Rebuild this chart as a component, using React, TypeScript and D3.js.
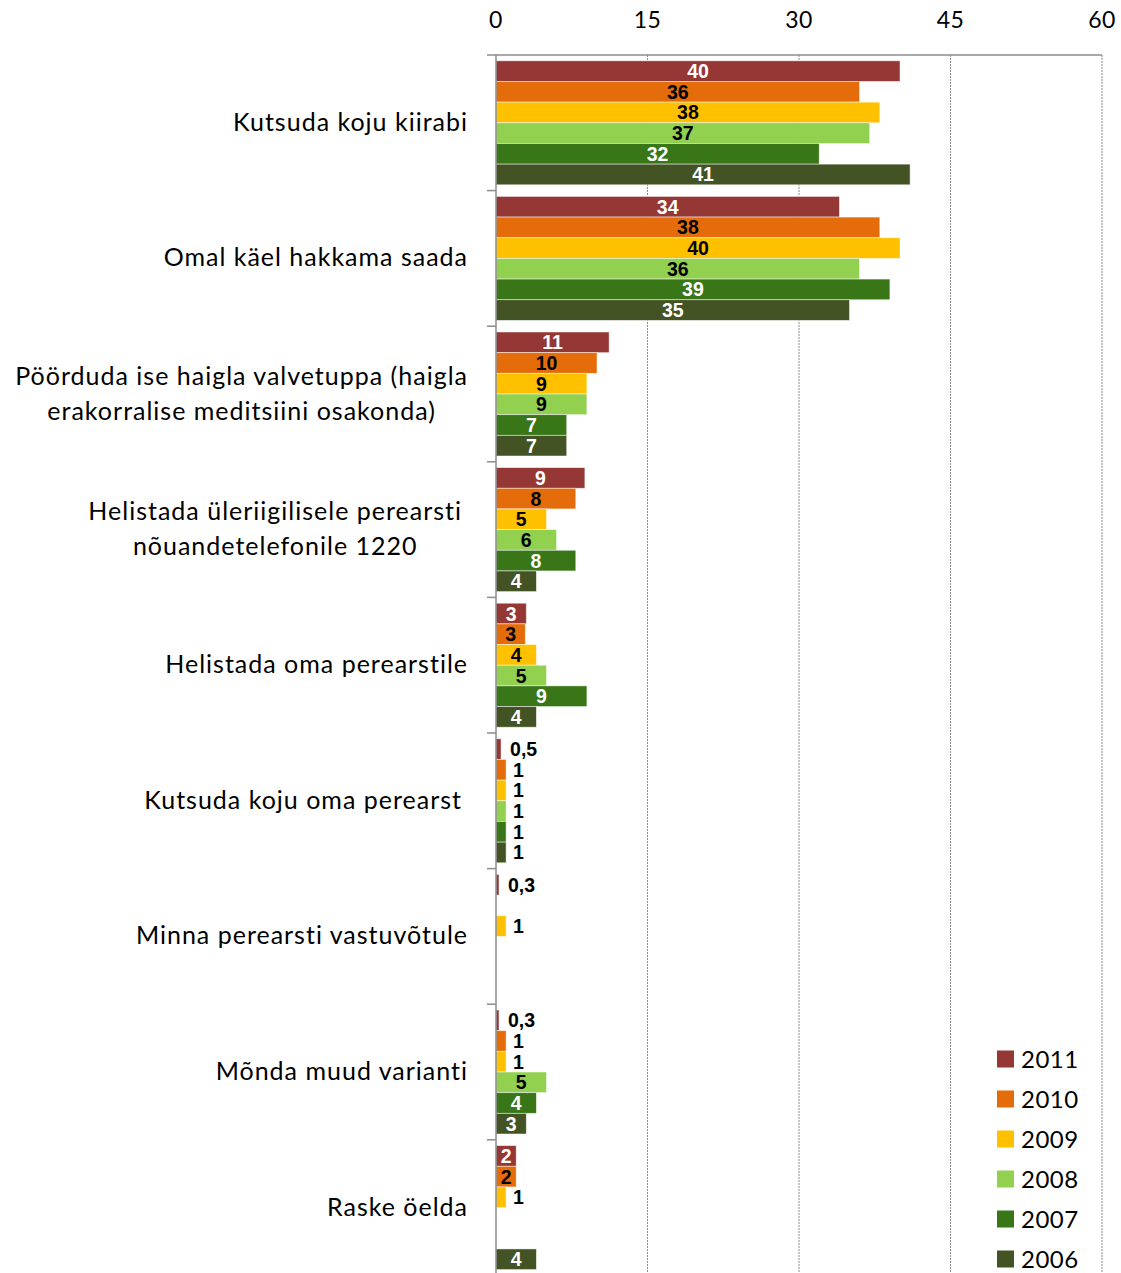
import React, { useEffect, useRef } from "react";
import * as d3 from "d3";

const categories = [
  ["Kutsuda koju kiirabi"],
  ["Omal käel hakkama saada"],
  ["Pöörduda ise haigla valvetuppa (haigla", "erakorralise meditsiini osakonda)"],
  ["Helistada üleriigilisele perearsti", "nõuandetelefonile 1220"],
  ["Helistada oma perearstile"],
  ["Kutsuda koju oma perearst"],
  ["Minna perearsti vastuvõtule"],
  ["Mõnda muud varianti"],
  ["Raske öelda"],
];

const years = ["2011", "2010", "2009", "2008", "2007", "2006"];
const colors = ["#953735", "#E46C0A", "#FFC000", "#92D050", "#387618", "#435323"];
const labelColors = ["#fff", "#000", "#000", "#000", "#fff", "#fff"];

const v2011 = [40, 34, 11.2, 8.8, 3, 0.5, 0.3, 0.3, 2];
const v2010 = [36, 38, 10, 7.9, 2.9, 1, null, 1, 2];
const v2009 = [38, 40, 9, 5, 4, 1, 1, 1, 1];
const v2008 = [37, 36, 9, 6, 5, 1, null, 5, null];
const v2007 = [32, 39, 7, 7.9, 9, 1, null, 4, null];
const v2006 = [41, 35, 7, 4, 4, 1, null, 3, 4];
const series = [v2011, v2010, v2009, v2008, v2007, v2006];

const xTicks = [0, 15, 30, 45, 60];

const W = 1121;
const H = 1273;

export default function App() {
  const ref = useRef<SVGSVGElement | null>(null);

  useEffect(() => {
    const svg = d3.select(ref.current);
    svg.selectAll("*").remove();

    const left = 496;
    const right = 1102;
    const top = 55;
    const bandH = 135.6;

    const x = d3.scaleLinear().domain([0, 60]).range([left, right]);
    const y = d3
      .scaleBand<number>()
      .domain(d3.range(categories.length))
      .range([top, top + bandH * categories.length])
      .paddingInner(0)
      .paddingOuter(0);
    const inner = d3
      .scaleBand<number>()
      .domain(d3.range(years.length))
      .range([5.8, bandH - 5.8]);

    // gridlines
    svg
      .append("g")
      .selectAll("line")
      .data(xTicks.slice(1))
      .enter()
      .append("line")
      .attr("x1", (d) => x(d))
      .attr("x2", (d) => x(d))
      .attr("y1", top)
      .attr("y2", H)
      .attr("stroke", "#8c8c8c")
      .attr("stroke-width", 1)
      .attr("stroke-dasharray", "2,1");

    // tick labels
    svg
      .append("g")
      .selectAll("text")
      .data(xTicks)
      .enter()
      .append("text")
      .attr("x", (d) => x(d))
      .attr("y", 28)
      .attr("text-anchor", "middle")
      .style("font-family", "Lato, 'Open Sans', sans-serif")
      .style("font-size", "23px")
      .style("letter-spacing", "0.5px")
      .attr("fill", "#000")
      .text((d) => d);

    // bars
    series.forEach((vals, si) => {
      const g = svg.append("g");
      const data = vals
        .map((v, ci) => ({ v, ci }))
        .filter((d) => d.v !== null) as { v: number; ci: number }[];
      g.selectAll("rect")
        .data(data)
        .enter()
        .append("rect")
        .attr("x", x(0))
        .attr("y", (d) => (y(d.ci) as number) + (inner(si) as number))
        .attr("width", (d) => x(d.v) - x(0))
        .attr("height", inner.bandwidth())
        .attr("fill", colors[si])
        .attr("stroke", "rgba(255,255,255,0.6)")
        .attr("stroke-width", 0.8);

      g.selectAll("text")
        .data(data)
        .enter()
        .append("text")
        .attr("x", (d) => (d.v < 1 ? x(d.v) + 9 : d.v === 1 ? x(d.v) + 7 : (x(0) + x(d.v)) / 2))
        .attr("y", (d) => (y(d.ci) as number) + (inner(si) as number) + inner.bandwidth() / 2 + 7)
        .attr("text-anchor", (d) => (d.v <= 1 ? "start" : "middle"))
        .style("font-family", "'Liberation Sans Narrow', 'Liberation Sans', Arial, sans-serif")
        .style("font-weight", "bold")
        .style("font-size", "19.5px")
        .attr("fill", (d) => (d.v <= 1 ? "#000" : labelColors[si]))
        .text((d) => String(d.v >= 2 ? Math.round(d.v) : d.v).replace(".", ","));
    });

    // axes lines
    svg
      .append("line")
      .attr("x1", x(0) - 9)
      .attr("x2", right)
      .attr("y1", top)
      .attr("y2", top)
      .attr("stroke", "#8c8c8c")
      .attr("stroke-width", 1.5);
    svg
      .append("line")
      .attr("x1", x(0))
      .attr("x2", x(0))
      .attr("y1", top)
      .attr("y2", H)
      .attr("stroke", "#8c8c8c")
      .attr("stroke-width", 1.5);
    svg
      .append("g")
      .selectAll("line")
      .data(d3.range(1, categories.length + 1))
      .enter()
      .append("line")
      .attr("x1", x(0) - 9)
      .attr("x2", x(0))
      .attr("y1", (d) => top + d * bandH)
      .attr("y2", (d) => top + d * bandH)
      .attr("stroke", "#8c8c8c")
      .attr("stroke-width", 1.5);

    // category labels
    const catG = svg.append("g");
    categories.forEach((lines, ci) => {
      const cy = (y(ci) as number) + bandH / 2;
      const lineH = 35;
      const texts = lines.map((ln, li) =>
        catG
          .append("text")
          .attr("y", cy + 8 + (li - (lines.length - 1) / 2) * lineH)
          .style("font-family", "Lato, 'Open Sans', sans-serif")
          .style("font-size", "25px")
          .style("letter-spacing", "1px")
          .attr("fill", "#000")
          .text(ln)
      );
      const rightEdge = ci === 3 || ci === 5 ? 462 : 468;
      if (lines.length === 1) {
        texts[0].attr("x", rightEdge).attr("text-anchor", "end");
      } else {
        const widths = texts.map((t) => (t.node() as SVGTextElement).getComputedTextLength());
        const maxW = Math.max(...widths);
        texts.forEach((t) => t.attr("x", rightEdge - maxW / 2).attr("text-anchor", "middle"));
      }
    });

    // legend
    const leg = svg.append("g");
    years.forEach((yr, i) => {
      const ly = 1059 + i * 40;
      leg
        .append("rect")
        .attr("x", 997)
        .attr("y", ly - 8.5)
        .attr("width", 17)
        .attr("height", 17)
        .attr("fill", colors[i]);
      leg
        .append("text")
        .attr("x", 1021)
        .attr("y", ly + 8.5)
        .style("font-family", "Lato, 'Open Sans', sans-serif")
        .style("font-size", "24px")
        .style("letter-spacing", "0.5px")
        .attr("fill", "#000")
        .text(yr);
    });
  }, []);

  return (
    <svg
      ref={ref}
      width={W}
      height={H}
      style={{ position: "absolute", left: 0, top: 0, background: "#fff" }}
    />
  );
}
